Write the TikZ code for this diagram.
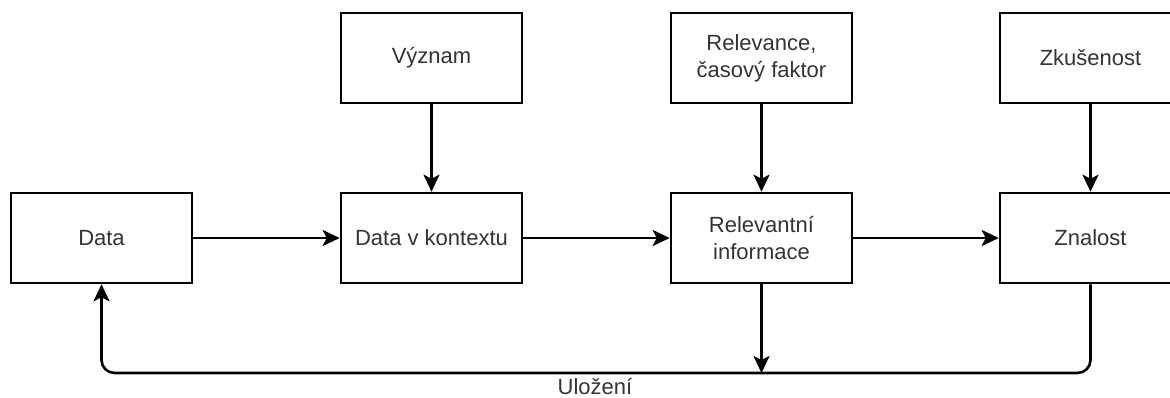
\documentclass[tikz,border=0pt]{standalone}
\usepackage{fontspec}
\setmainfont{Liberation Sans}
\usetikzlibrary{arrows.meta}
\definecolor{txt}{HTML}{333333}
\begin{document}
\begin{tikzpicture}[x=1pt,y=-1pt,
  box/.style={draw=black, line width=2.6pt, minimum width=181pt, minimum height=90pt,
              inner sep=0pt, align=center, text=txt, font=\fontsize{22}{27}\selectfont},
  conn/.style={line width=2.6pt, -{Stealth[length=17pt,width=16pt,inset=4pt]}},
  lbl/.style={text=txt, inner sep=0pt, font=\fontsize{22}{27}\selectfont}]
\useasboundingbox (0,0) rectangle (1170,398);
\clip (0,0) rectangle (1170,398);
% lower row
\node[box] (data) at (101.5,238) {Data};
\node[box] (ctx)  at (431.5,238) {Data v kontextu};
\node[box] (rel)  at (761.5,238) {Relevantní\\informace};
\node[box] (zn)   at (1090.5,238) {Znalost};
% upper row
\node[box] (vyz)  at (431.5,58) {Význam};
\node[box] (rf)   at (761.5,58) {Relevance,\\časový faktor};
\node[box] (zk)   at (1090.5,58) {Zkušenost};
% flow
\draw[conn] (data) -- (ctx);
\draw[conn] (ctx) -- (rel);
\draw[conn] (rel) -- (zn);
\draw[conn] (vyz) -- (ctx);
\draw[conn] (rf) -- (rel);
\draw[conn] (zk) -- (zn);
% feedback loop
\coordinate (bus) at (761.5,373);
\draw[conn] (rel.south) -- (bus);
\draw[conn, rounded corners=13pt] (zn.south) |- (bus) -| (data.south);
\node[lbl, anchor=base] (ul) at (595,394) {Uložení};
\end{tikzpicture}
\end{document}
